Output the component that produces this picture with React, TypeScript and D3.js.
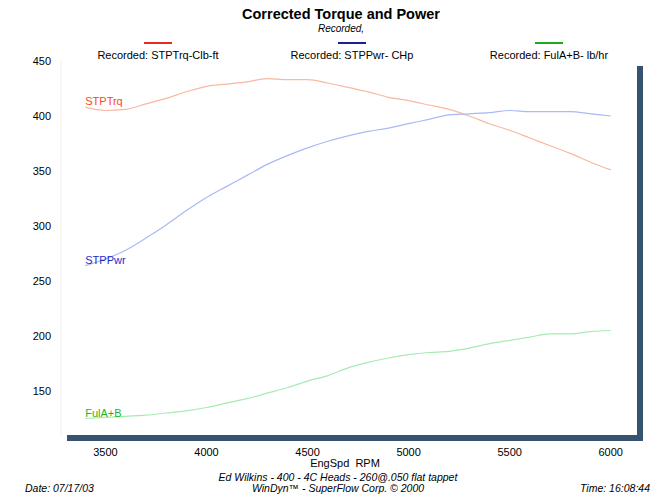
import * as d3 from 'd3'
import { useRef, useEffect } from 'react'

// engine speed steps (rpm)
const rpm = [3400, 3500, 3600, 3700, 3800, 3900, 4000, 4100, 4200, 4300, 4400, 4500, 4600, 4700,
  4800, 4900, 5000, 5100, 5200, 5300, 5400, 5500, 5600, 5700, 5800, 5900, 6000]

// STPTrq - corrected torque, lb-ft
const torque = [408, 405, 406, 411, 416, 422, 427, 429, 431, 434, 433, 433, 430, 426,
  422, 417, 414, 410, 406, 400, 393, 387, 380, 373, 366, 358, 351]

// STPPwr - corrected power, hp
const power = [264, 270, 278, 289, 301, 314, 326, 336, 346, 356, 364, 371, 377, 382,
  386, 389, 393, 397, 401, 402, 403, 405, 404, 404, 404, 402, 400]

// FulA+B - fuel flow, lb/hr
const fuel = [125, 126, 127, 128, 130, 132, 135, 139, 143, 148, 153, 159, 164, 171,
  176, 180, 183, 185, 186, 189, 193, 196, 199, 202, 202, 204, 205]

const xTicks = [3500, 4000, 4500, 5000, 5500, 6000]
const yTicks = [150, 200, 250, 300, 350, 400, 450]

const series = [
  { name: 'STPTrq', legend: 'Recorded: STPTrq-Clb-ft', values: torque, line: '#f9b8a2', label: '#ff4422', key: '#e82a22' },
  { name: 'STPPwr', legend: 'Recorded: STPPwr- CHp', values: power, line: '#abb9f5', label: '#1c2cc4', key: '#1a1e9c' },
  { name: 'FulA+B', legend: 'Recorded: FulA+B- lb/hr', values: fuel, line: '#a6ecb2', label: '#1fb41f', key: '#1ea81e' },
]

export default function App() {
  const d3Ref = useRef<SVGSVGElement | null>(null)

  useEffect(() => {
    if (!d3Ref.current) return
    const svg = d3.select(d3Ref.current)
    svg.selectAll('*').remove()

    const width = 662
    const height = 500
    const font = 'Liberation Sans, Arial, sans-serif'

    svg.attr('width', width).attr('height', height).style('font-family', font)

    const x = d3.scaleLinear().domain([3280, 6130]).range([61, 637])
    const y = d3.scaleLinear().domain([110, 450]).range([435, 61])

    /* ------- TITLE ------- */
    svg.append('text')
      .attr('x', 341).attr('y', 19)
      .attr('text-anchor', 'middle')
      .style('font-size', '14.5px').style('font-weight', 'bold')
      .text('Corrected Torque and Power')
    svg.append('text')
      .attr('x', 341).attr('y', 32)
      .attr('text-anchor', 'middle')
      .style('font-size', '10px').style('font-style', 'italic')
      .text('Recorded,')

    /* ------- LEGEND ------- */
    const legendX = [158, 352, 549]
    const legend = svg.selectAll('.legend-item')
      .data(series)
      .enter()
      .append('g')
      .attr('transform', (d, i) => `translate(${legendX[i]}, 0)`)
    legend.append('line')
      .attr('x1', -14).attr('x2', 14)
      .attr('y1', 43).attr('y2', 43)
      .attr('stroke', (d) => d.key)
      .attr('stroke-width', 2)
    legend.append('text')
      .attr('y', 59)
      .attr('text-anchor', 'middle')
      .style('font-size', '11px')
      .text((d) => d.legend)

    /* ------- FRAME (faint left edge + drop shadow) ------- */
    svg.append('line')
      .attr('x1', x(3280)).attr('x2', x(3280))
      .attr('y1', y(450)).attr('y2', y(110))
      .attr('stroke', '#f0f0f0')
    svg.append('rect')
      .attr('x', x(6130)).attr('y', y(450) + 5)
      .attr('width', 6).attr('height', y(110) - y(450) + 1)
      .attr('fill', '#36536f')
    svg.append('rect')
      .attr('x', x(3280) + 6).attr('y', y(110))
      .attr('width', x(6130) - x(3280)).attr('height', 6)
      .attr('fill', '#36536f')

    /* ------- AXES LABELS ------- */
    svg.append('g')
      .selectAll('text')
      .data(yTicks)
      .enter()
      .append('text')
      .attr('x', 51)
      .attr('y', (d) => y(d) + 4)
      .attr('text-anchor', 'end')
      .style('font-size', '11px')
      .text((d) => d)

    svg.append('g')
      .selectAll('text')
      .data(xTicks)
      .enter()
      .append('text')
      .attr('x', (d) => x(d))
      .attr('y', 456)
      .attr('text-anchor', 'middle')
      .style('font-size', '11px')
      .text((d) => d)

    svg.append('text')
      .attr('x', 345).attr('y', 467)
      .attr('text-anchor', 'middle')
      .style('font-size', '11px')
      .style('white-space', 'pre')
      .attr('xml:space', 'preserve')
      .text('EngSpd  RPM')

    /* ------- LINES ------- */
    const line = d3.line<number>()
      .x((d, i) => x(rpm[i]))
      .y((d) => y(d))
      .curve(d3.curveMonotoneX)

    svg.append('g')
      .selectAll('path')
      .data(series)
      .enter()
      .append('path')
      .attr('d', (d) => line(d.values))
      .attr('fill', 'none')
      .attr('stroke', (d) => d.line)
      .attr('stroke-width', 1.2)

    svg.append('g')
      .selectAll('text')
      .data(series)
      .enter()
      .append('text')
      .attr('x', x(rpm[0]))
      .attr('y', (d) => y(d.values[0]) - 2)
      .style('font-size', '11px')
      .attr('fill', (d) => d.label)
      .text((d) => d.name)

    /* ------- FOOTER ------- */
    const footer = svg.append('g').style('font-size', '10.5px').style('font-style', 'italic')
    footer.append('text')
      .attr('x', 338).attr('y', 481)
      .attr('text-anchor', 'middle')
      .text('Ed Wilkins - 400 - 4C Heads - 260@.050 flat tappet')
    footer.append('text')
      .attr('x', 338).attr('y', 492)
      .attr('text-anchor', 'middle')
      .text('WinDyn™ - SuperFlow Corp. © 2000')
    footer.append('text')
      .attr('x', 25).attr('y', 492)
      .text('Date: 07/17/03')
    footer.append('text')
      .attr('x', 650).attr('y', 492)
      .attr('text-anchor', 'end')
      .text('Time: 16:08:44')
  }, [])

  return (
    <div style={{ position: 'absolute', left: 0, top: 0, background: '#fff' }}>
      <svg ref={d3Ref}></svg>
    </div>
  )
}
